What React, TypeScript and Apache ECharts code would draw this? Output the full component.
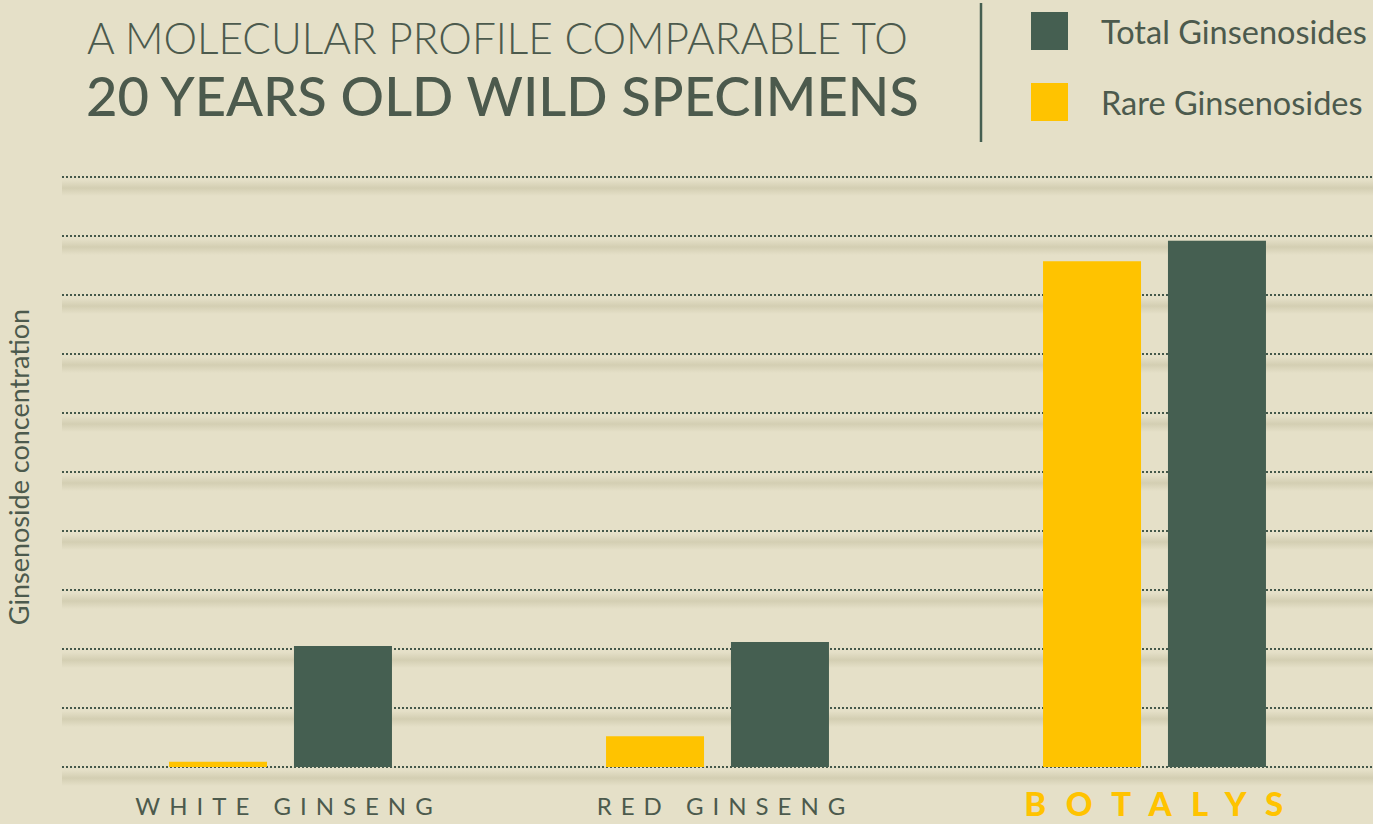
import React, { useEffect, useRef } from "react";
import * as echarts from "echarts";

const categories = ["WHITE GINSENG", "RED GINSENG", "BOTALYS"];
const rareValues = [0.09, 0.52, 8.57];
const totalValues = [2.05, 2.12, 8.92];
const seriesNames = ["Rare Ginsenosides", "Total Ginsenosides"];
const legendOrder = ["Total Ginsenosides", "Rare Ginsenosides"];
const gridTicks = [0, 1, 2, 3, 4, 5, 6, 7, 8, 9, 10];
const titleLine1 = "A MOLECULAR PROFILE COMPARABLE TO";
const titleLine2 = "20 YEARS OLD WILD SPECIMENS";
const yAxisName = "Ginsenoside concentration";

const TEXT = "#4C5A4D";
const GREEN = "#455F51";
const YELLOW = "#FFC300";
const BG = "#E5E0C8";
const FONT = "Lato, 'Open Sans', sans-serif";

export default function App() {
  const ref = useRef<HTMLDivElement>(null);
  useEffect(() => {
    if (!ref.current) return;
    const chart = echarts.init(ref.current, undefined, { renderer: "svg" });
    chart.setOption({
      animation: false,
      backgroundColor: BG,
      grid: { left: 62, right: 0, top: 177, bottom: 57, outerBoundsMode: "none", containLabel: false },
      legend: {
        data: legendOrder,
        orient: "vertical",
        left: 1031,
        top: 12,
        padding: 0,
        itemWidth: 37,
        itemHeight: 38,
        itemGap: 33,
        icon: "rect",
        selectedMode: false,
        textStyle: {
          color: TEXT,
          fontSize: 32.5,
          fontFamily: FONT,
          fontWeight: 400,
          padding: [0, 0, 4, 28],
        },
      },
      xAxis: {
        type: "category",
        data: categories,
        axisLine: { show: false },
        axisTick: { show: false },
        axisLabel: {
          margin: 26,
          formatter: (v: string) => (v === "BOTALYS" ? `{logo|${v}}` : `{cat|${v}}`),
          rich: {
            cat: { fontSize: 24, lineHeight: 24, color: TEXT, fontFamily: FONT, fontWeight: 400, padding: [0, 0, 0, 16] },
            logo: { fontSize: 33, lineHeight: 24, color: YELLOW, fontFamily: FONT, fontWeight: 900, padding: [0, 0, 4, 18] },
          },
        },
      },
      yAxis: {
        type: "value",
        min: 0,
        max: 10,
        interval: 1,
        axisLabel: { show: false },
        axisLine: { show: false },
        axisTick: { show: false },
        name: yAxisName,
        nameLocation: "middle",
        nameGap: 30,
        nameTextStyle: { color: TEXT, fontSize: 27, fontFamily: FONT, fontWeight: 400, padding: [0, 0, 0, 10] },
        splitLine: {
          show: true,
          lineStyle: { type: [2, 2], width: 2, color: "#44584A" },
        },
      },
      series: [
        {
          name: "gridShadow",
          type: "custom",
          silent: true,
          z: 1,
          data: gridTicks.map((v) => [0, v]),
          encode: { x: 0, y: 1 },
          renderItem: (params: any, api: any) => {
            const cs = params.coordSys;
            const y = api.coord([0, api.value(1)])[1];
            return {
              type: "rect",
              shape: { x: cs.x, y: y + 3, width: cs.width, height: 16 },
              style: {
                fill: new echarts.graphic.LinearGradient(0, 0, 0, 1, [
                  { offset: 0, color: "rgba(180,175,140,0)" },
                  { offset: 0.5, color: "rgba(180,175,140,0.36)" },
                  { offset: 1, color: "rgba(180,175,140,0)" },
                ]),
              },
            };
          },
        },
        {
          name: seriesNames[0],
          type: "bar",
          z: 3,
          data: rareValues,
          barWidth: 98,
          barGap: "27.5%",
          itemStyle: { color: YELLOW },
        },
        {
          name: seriesNames[1],
          type: "bar",
          z: 3,
          data: totalValues,
          barWidth: 98,
          itemStyle: { color: GREEN },
        },
      ],
      graphic: [
        {
          type: "text",
          left: 87,
          top: 16,
          style: { text: titleLine1, fill: TEXT, fontSize: 42.4, fontFamily: FONT, fontWeight: 300 },
        },
        {
          type: "text",
          left: 86,
          top: 68,
          style: { text: titleLine2, fill: TEXT, fontSize: 54.3, fontFamily: FONT, fontWeight: 500 },
        },
        {
          type: "line",
          shape: { x1: 981, y1: 3, x2: 981, y2: 142 },
          style: { stroke: GREEN, lineWidth: 2.5 },
        },
      ],
    });
    const texts = ref.current.querySelectorAll("text");
    texts.forEach((t) => {
      const c = t.textContent || "";
      if (c === "BOTALYS") (t as any).style.letterSpacing = "19.5px";
      else if (categories.includes(c)) (t as any).style.letterSpacing = "9px";
    });
    return () => chart.dispose();
  }, []);
  return (
    <div
      ref={ref}
      style={{ position: "fixed", left: 0, top: 0, width: 1373, height: 824 }}
    />
  );
}
